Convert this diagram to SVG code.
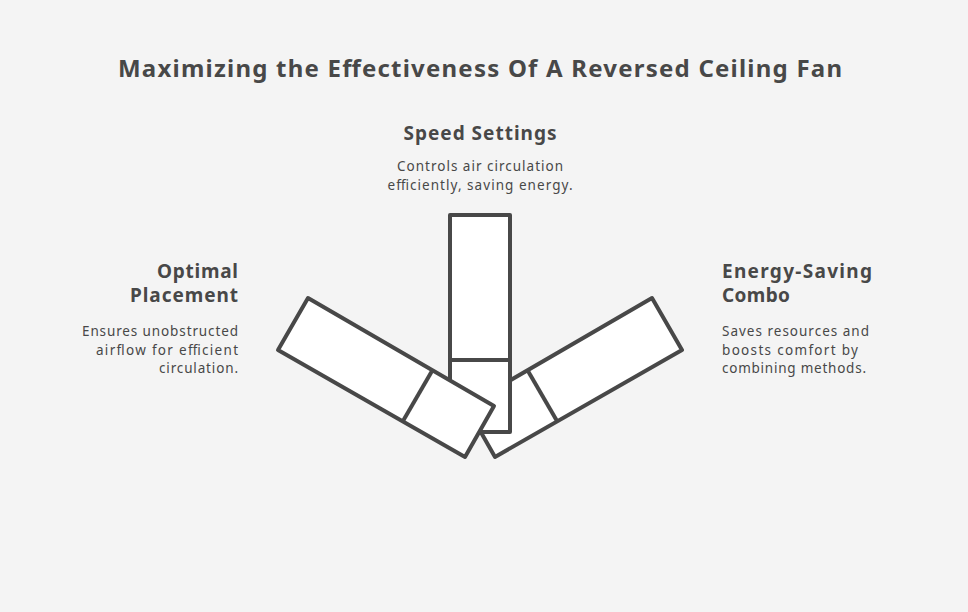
<svg xmlns="http://www.w3.org/2000/svg" width="968" height="612" viewBox="0 0 968 612">
<style>
.b{fill:#fff;stroke:#484848;stroke-width:4;stroke-linejoin:round}
.d{stroke:#484848;stroke-width:4;fill:none}
text{font-family:"Noto Sans","Liberation Sans",sans-serif;fill:#484848}
.h{font-size:19px;font-weight:bold}
.t{font-size:13.5px}
</style>
<rect width="968" height="612" fill="#f4f4f4"/>
<text x="480" y="77" text-anchor="middle" font-size="24" font-weight="bold" textLength="724">Maximizing the Effectiveness Of A Reversed Ceiling Fan</text>
<g id="right-blade">
<polygon class="b" points="652,298 682,350 495,457 466,406"/>
<line class="d" x1="528" y1="371" x2="557" y2="421"/>
</g>
<g id="center-blade">
<rect class="b" x="450" y="215" width="60" height="217"/>
<line class="d" x1="450" y1="360" x2="510" y2="360"/>
</g>
<g id="left-blade">
<polygon class="b" points="308,298 278,350 465,457 494,406"/>
<line class="d" x1="432" y1="371" x2="403" y2="421"/>
</g>
<g id="speed">
<text class="h" x="480" y="140" text-anchor="middle" textLength="153">Speed Settings</text>
<text class="t" x="480" y="171" text-anchor="middle" textLength="166">Controls air circulation</text>
<text class="t" x="480" y="190" text-anchor="middle" textLength="185">efficiently, saving energy.</text>
</g>
<g id="placement">
<text class="h" x="238" y="278" text-anchor="end" textLength="81">Optimal</text>
<text class="h" x="238" y="302" text-anchor="end" textLength="108">Placement</text>
<text class="t" x="238" y="336" text-anchor="end" textLength="156">Ensures unobstructed</text>
<text class="t" x="238" y="355" text-anchor="end" textLength="142">airflow for efficient</text>
<text class="t" x="238" y="373" text-anchor="end" textLength="79">circulation.</text>
</g>
<g id="combo">
<text class="h" x="722" y="278" textLength="150">Energy-Saving</text>
<text class="h" x="722" y="302" textLength="68">Combo</text>
<text class="t" x="722" y="336" textLength="147">Saves resources and</text>
<text class="t" x="722" y="355" textLength="136">boosts comfort by</text>
<text class="t" x="722" y="373" textLength="144">combining methods.</text>
</g>
<g id="connectors"/>
</svg>
